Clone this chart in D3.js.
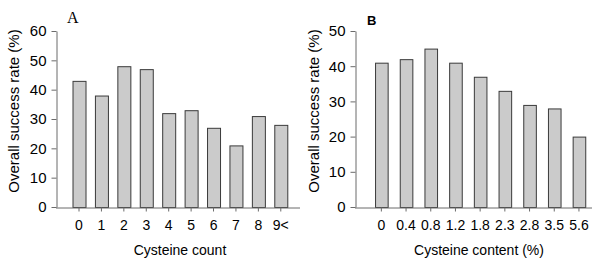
<!DOCTYPE html>
<html>
<head>
<meta charset="utf-8">
<script src="https://cdn.jsdelivr.net/npm/d3@7"></script>
<style>
  body { margin: 0; background: #fff; }
  svg { display: block; }
</style>
</head>
<body>
<div id="chart"></div>
<script>
// Panel A: success rate by cysteine count
const countCategories = ["0", "1", "2", "3", "4", "5", "6", "7", "8", "9<"];
const countValues = [43, 38, 48, 47, 32, 33, 27, 21, 31, 28];
const countTicks = [0, 10, 20, 30, 40, 50, 60];

// Panel B: success rate by cysteine content
const contentCategories = ["0", "0.4", "0.8", "1.2", "1.8", "2.3", "2.8", "3.5", "5.6"];
const contentValues = [41, 42, 45, 41, 37, 33, 29, 28, 20];
const contentTicks = [0, 10, 20, 30, 40, 50];

const BAR_FILL = "#cbcbcb";
const BAR_STROKE = "#3a3a3a";
const AXIS_COLOR = "#6b6b6b";
const FONT = "Arial, 'Liberation Sans', sans-serif";

const svg = d3.select("#chart").append("svg")
  .attr("width", 601)
  .attr("height", 266);

function drawPanel(opts) {
  const { left, right, top, bottom, categories, values, ticks, yMax, xTitle, xTitleX } = opts;
  const g = svg.append("g");

  const x = d3.scaleBand().domain(categories)
    .range([opts.bandStart, opts.bandEnd])
    .paddingInner(opts.padding).paddingOuter(opts.padding / 2);
  const y = d3.scaleLinear().domain([0, yMax]).range([bottom, top]);

  // bars
  g.selectAll("rect.bar")
    .data(values)
    .join("rect")
    .attr("class", "bar")
    .attr("x", (d, i) => x(categories[i]) + 0.5)
    .attr("y", (d) => y(d) + 0.5)
    .attr("width", x.bandwidth())
    .attr("height", (d) => bottom - y(d))
    .attr("fill", BAR_FILL)
    .attr("stroke", BAR_STROKE)
    .attr("stroke-width", 1);

  // y axis
  const yAxis = g.append("g")
    .attr("transform", `translate(${left + 0.5},0)`)
    .call(d3.axisLeft(y).tickValues(ticks).tickSize(5).tickPadding(5).tickSizeOuter(0));
  yAxis.select(".domain").attr("stroke", AXIS_COLOR);
  yAxis.selectAll(".tick line").attr("stroke", AXIS_COLOR);
  yAxis.selectAll(".tick text")
    .attr("font-family", FONT).attr("font-size", "15px").attr("fill", "#000");

  // x axis
  const xAxis = g.append("g")
    .attr("transform", `translate(0,${bottom + 0.5})`)
    .call(d3.axisBottom(x).tickSize(4).tickPadding(9).tickSizeOuter(0));
  xAxis.select(".domain").attr("d", `M${left},0.5H${right}`).attr("stroke", AXIS_COLOR);
  xAxis.selectAll(".tick line").attr("stroke", AXIS_COLOR);
  xAxis.selectAll(".tick text")
    .attr("font-family", FONT).attr("font-size", "14px").attr("fill", "#000");

  // axis titles
  g.append("text")
    .attr("transform", `translate(${opts.yTitleX},${(top + bottom) / 2 - 8}) rotate(-90)`)
    .attr("text-anchor", "middle")
    .attr("font-family", FONT)
    .attr("font-size", "15px")
    .attr("fill", "#000")
    .text("Overall success rate (%)");

  g.append("text")
    .attr("x", xTitleX)
    .attr("y", 255)
    .attr("text-anchor", "middle")
    .attr("font-family", FONT)
    .attr("font-size", "14px")
    .attr("fill", "#000")
    .text(xTitle);

  return g;
}

drawPanel({
  left: 56, right: 300, top: 31, bottom: 207,
  bandStart: 67.8, bandEnd: 292,
  padding: 0.42,
  categories: countCategories, values: countValues, ticks: countTicks, yMax: 60,
  xTitle: "Cysteine count", xTitleX: 180, yTitleX: 19
});

drawPanel({
  left: 355, right: 592, top: 31, bottom: 207,
  bandStart: 369, bandEnd: 591.3,
  padding: 0.49,
  categories: contentCategories, values: contentValues, ticks: contentTicks, yMax: 50,
  xTitle: "Cysteine content (%)", xTitleX: 479, yTitleX: 319
});

// panel letters
svg.append("text")
  .attr("x", 67).attr("y", 23)
  .attr("font-family", "'Liberation Serif', 'Times New Roman', serif")
  .attr("font-size", "16px")
  .attr("fill", "#000")
  .text("A");

svg.append("text")
  .attr("x", 367).attr("y", 25)
  .attr("font-family", FONT)
  .attr("font-size", "13px")
  .attr("font-weight", "bold")
  .attr("fill", "#000")
  .text("B");
</script>
</body>
</html>
